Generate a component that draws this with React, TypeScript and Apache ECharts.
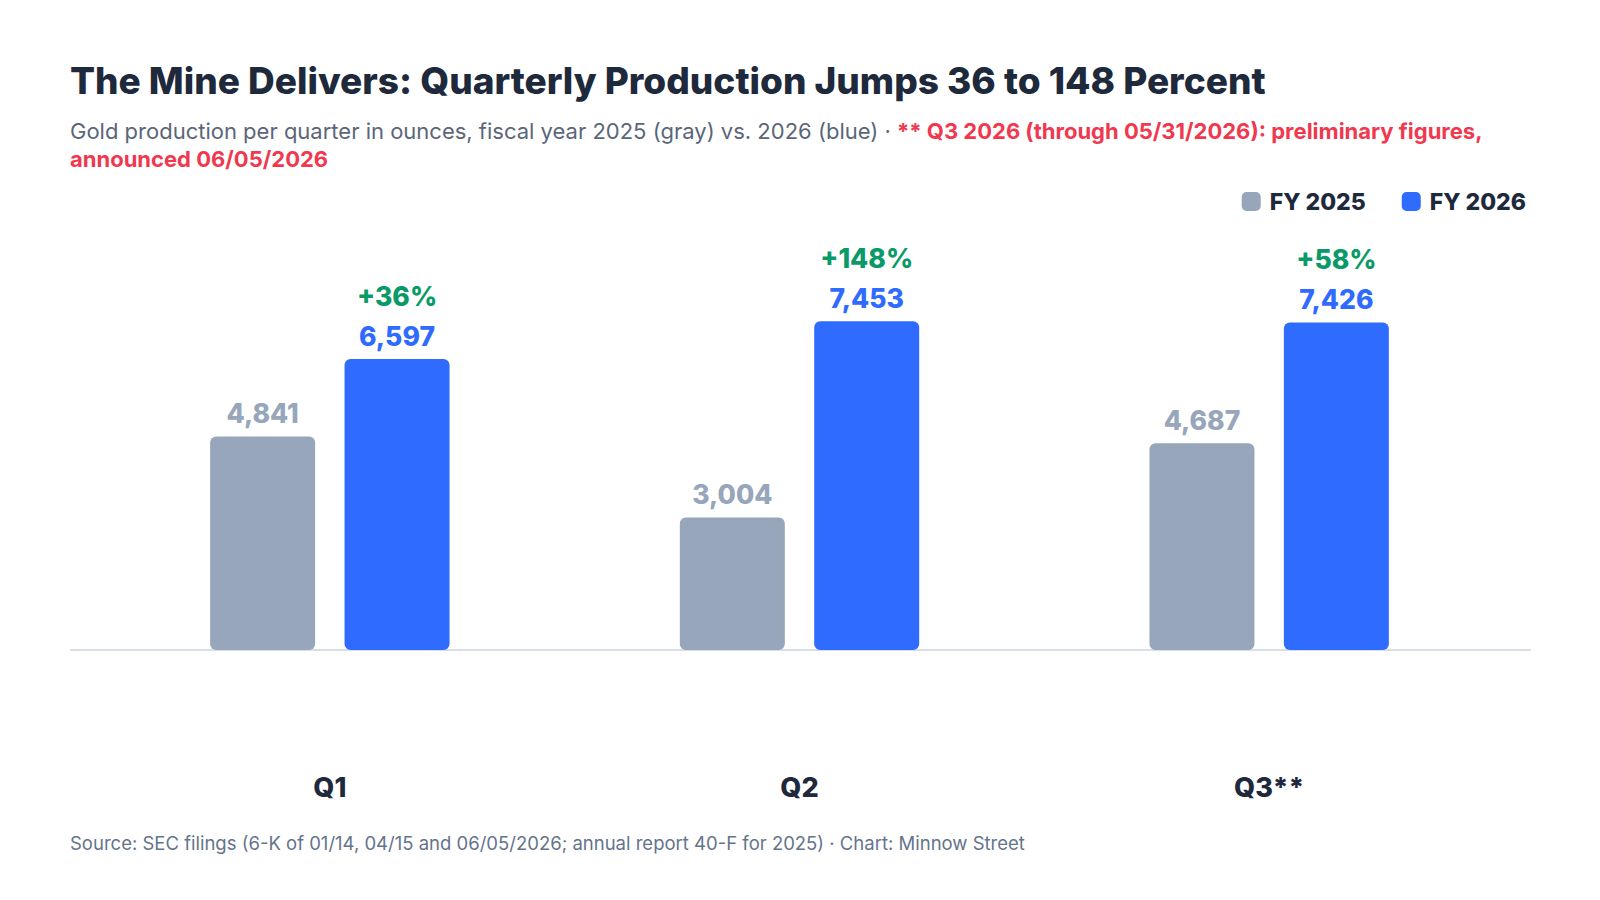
import { useEffect, useRef } from 'react'
import * as echarts from 'echarts'

const quarters = ['Q1', 'Q2', 'Q3**']
const fy2025 = [4841, 3004, 4687]
const fy2026 = [6597, 7453, 7426]
const growth = ['+36%', '+148%', '+58%']

const FONT = 'Inter, "Noto Sans", sans-serif'
const GRAY = '#97a6ba'
const BLUE = '#2f6bff'
const fmt = (v: number) => v.toLocaleString('en-US')

export default function App() {
  const ref = useRef<HTMLDivElement>(null)

  useEffect(() => {
    if (!ref.current) return
    const chart = echarts.init(ref.current, null, { renderer: 'svg' })
    chart.setOption({
      animation: false,
      backgroundColor: '#ffffff',
      textStyle: { fontFamily: FONT },
      graphic: [
        {
          type: 'text', left: 70, top: 62,
          style: { text: 'The Mine Delivers: Quarterly Production Jumps 36 to 148 Percent', font: `800 37px ${FONT}`, fill: '#1e293b' },
        },
        {
          type: 'text', left: 70, top: 120,
          style: {
            text: '{n|Gold production per quarter in ounces, fiscal year 2025 (gray) vs. 2026 (blue) · }{r|** Q3 2026 (through 05/31/2026): preliminary figures,}\n{r|announced 06/05/2026}',
            rich: {
              n: { fontSize: 22, fontFamily: FONT, fill: '#5b6678', lineHeight: 28 },
              r: { fontSize: 22, fontFamily: FONT, fontWeight: 'bold', fill: '#f0384f', lineHeight: 28 },
            },
          },
        },
        {
          type: 'line', shape: { x1: 70, y1: 650, x2: 1531, y2: 650 },
          style: { stroke: '#cbd5e1', lineWidth: 1.5 },
        },
        {
          type: 'text', left: 70, top: 833,
          style: { text: 'Source: SEC filings (6-K of 01/14, 04/15 and 06/05/2026; annual report 40-F for 2025) · Chart: Minnow Street', font: `18.5px ${FONT}`, fill: '#64748b' },
        },
      ],
      legend: {
        right: 69, top: 185, itemWidth: 19, itemHeight: 19, itemGap: 36,
        icon: 'roundRect',
        textStyle: { fontFamily: FONT, fontSize: 23, fontWeight: 800, color: '#1e293b', padding: [0, 0, 0, 4] },
      },
      grid: { left: 95, right: 96, top: 253, bottom: 250, containLabel: false },
      xAxis: {
        type: 'category', data: quarters,
        axisLine: { show: false }, axisTick: { show: false },
        axisLabel: { margin: 124, fontFamily: FONT, fontSize: 27, fontWeight: 800, color: '#1e293b' },
      },
      yAxis: { type: 'value', min: 0, max: 9000, show: false, splitLine: { show: false } },
      series: [
        {
          name: 'FY 2025', type: 'bar', data: fy2025, barWidth: 105, barGap: '28%',
          itemStyle: { color: GRAY, borderRadius: 6 },
          label: {
            show: true, position: 'top', distance: 10, formatter: (p: any) => fmt(p.value),
            fontFamily: FONT, fontSize: 26.5, fontWeight: 800, color: GRAY,
          },
        },
        {
          name: 'FY 2026', type: 'bar', data: fy2026, barWidth: 105,
          itemStyle: { color: BLUE, borderRadius: 6 },
          label: {
            show: true, position: 'top', distance: 8,
            formatter: (p: any) => `{g|${growth[p.dataIndex]}}\n{v|${fmt(p.value)}}`,
            rich: {
              g: { fontFamily: FONT, fontSize: 26.5, fontWeight: 800, color: '#0a9a68', lineHeight: 50 },
              v: { fontFamily: FONT, fontSize: 26.5, fontWeight: 800, color: BLUE, lineHeight: 30 },
            },
          },
        },
      ],
    })
    return () => chart.dispose()
  }, [])

  return <div ref={ref} style={{ width: 1600, height: 900, position: 'absolute', left: 0, top: 0 }} />
}
